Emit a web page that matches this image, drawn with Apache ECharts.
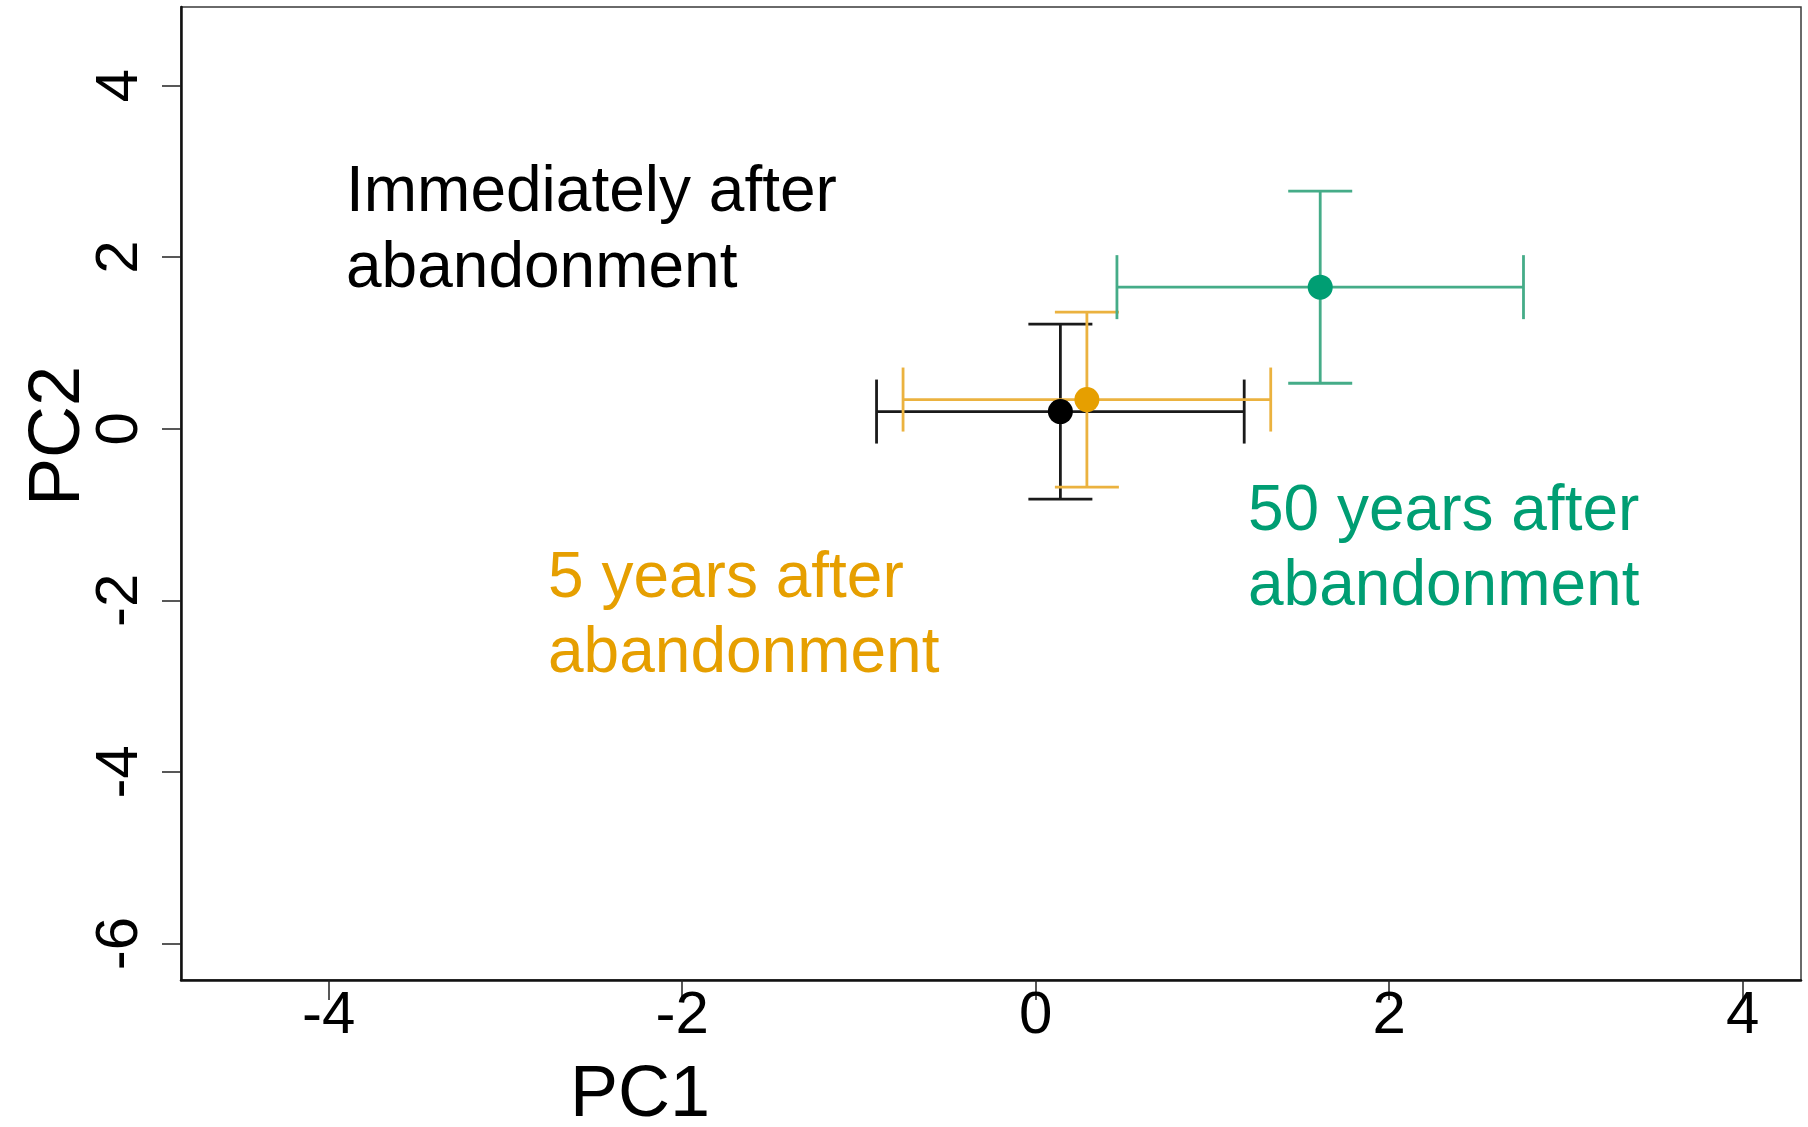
<!DOCTYPE html>
<html>
<head>
<meta charset="utf-8">
<script src="https://cdn.jsdelivr.net/npm/echarts@6/dist/echarts.min.js"></script>
<style>
  html, body { margin: 0; padding: 0; background: #ffffff; }
  #chart { width: 1808px; height: 1127px; }
</style>
</head>
<body>
<div id="chart"></div>
<script>
// Group means on the first two principal components with their error ranges
const groups = ['Immediately after\nabandonment', '5 years after\nabandonment', '50 years after\nabandonment'];
const pc1Mean = [0.14, 0.29, 1.61];
const pc1Err = [1.04, 1.04, 1.15];
const pc2Mean = [0.20, 0.34, 1.65];
const pc2Err = [1.02, 1.02, 1.12];
const xTicks = [-4, -2, 0, 2, 4];
const yTicks = [-6, -4, -2, 0, 2, 4];

const dotColors = ['#000000', '#E69F00', '#009E73'];
const barColors = ['#1a1a1a', '#EBB23F', '#45AC88'];

const chart = echarts.init(document.getElementById('chart'), null, { renderer: 'canvas' });

const errData = groups.map((g, i) => [pc1Mean[i], pc2Mean[i], pc1Err[i], pc2Err[i], i]);
// dots drawn so the first group ends on top
const dotData = [2, 1, 0].map(i => ({
  value: [pc1Mean[i], pc2Mean[i]],
  itemStyle: { color: dotColors[i], opacity: 1 }
}));

function renderErrorBars(params, api) {
  const cx = api.value(0), cy = api.value(1), ex = api.value(2), ey = api.value(3);
  const idx = api.value(4);
  const left = api.coord([cx - ex, cy]);
  const right = api.coord([cx + ex, cy]);
  const top = api.coord([cx, cy + ey]);
  const bottom = api.coord([cx, cy - ey]);
  const cap = 32;
  const style = { stroke: barColors[idx], lineWidth: 2.8 };
  const line = (x1, y1, x2, y2) => ({ type: 'line', shape: { x1, y1, x2, y2 }, style });
  return {
    type: 'group',
    children: [
      line(left[0], left[1], right[0], right[1]),
      line(left[0], left[1] - cap, left[0], left[1] + cap),
      line(right[0], right[1] - cap, right[0], right[1] + cap),
      line(top[0], top[1], bottom[0], bottom[1]),
      line(top[0] - cap, top[1], top[0] + cap, top[1]),
      line(bottom[0] - cap, bottom[1], bottom[0] + cap, bottom[1])
    ]
  };
}

const tickFont = { fontFamily: '"Liberation Sans Narrow", "Liberation Sans", Arial, sans-serif', fontSize: 60, color: '#000' };
const textFont = '"Liberation Sans", Arial, Helvetica, sans-serif';

chart.setOption({
  animation: false,
  backgroundColor: '#ffffff',
  grid: {
    left: 181, right: 7, top: 7, bottom: 147,
    show: true, borderColor: '#3a3a3a', borderWidth: 1.5, backgroundColor: 'transparent'
  },
  xAxis: {
    type: 'value',
    min: -4.835, max: 4.33,
    splitLine: { show: false },
    axisLine: { show: true, onZero: false, lineStyle: { color: '#111', width: 2.5 } },
    axisTick: { show: true, length: 20, lineStyle: { color: '#222', width: 1.5 }, customValues: xTicks },
    axisLabel: Object.assign({ margin: 6, customValues: xTicks, formatter: v => String(v) }, tickFont)
  },
  yAxis: {
    type: 'value',
    min: -6.425, max: 4.915,
    splitLine: { show: false },
    axisLine: { show: true, onZero: false, lineStyle: { color: '#111', width: 2.5 } },
    axisTick: { show: true, length: 19, lineStyle: { color: '#222', width: 1.5 }, customValues: yTicks },
    axisLabel: Object.assign({ margin: 31, rotate: 90, customValues: yTicks, formatter: v => String(v) }, tickFont)
  },
  series: [
    {
      type: 'custom',
      renderItem: renderErrorBars,
      data: errData,
      encode: { x: 0, y: 1 },
      z: 2,
      silent: true
    },
    {
      type: 'scatter',
      data: dotData,
      symbol: 'circle',
      symbolSize: 25,
      z: 3,
      silent: true
    }
  ],
  graphic: [
    {
      type: 'text', x: 346, y: 231,
      style: { text: groups[0], fill: dotColors[0], font: '64px ' + textFont, lineHeight: 76, align: 'left', verticalAlign: 'middle' }
    },
    {
      type: 'text', x: 548, y: 617,
      style: { text: groups[1], fill: dotColors[1], font: '64px ' + textFont, lineHeight: 75, align: 'left', verticalAlign: 'middle' }
    },
    {
      type: 'text', x: 1248, y: 550,
      style: { text: groups[2], fill: dotColors[2], font: '64px ' + textFont, lineHeight: 75, align: 'left', verticalAlign: 'middle' }
    },
    {
      type: 'text', x: 640, y: 1096,
      style: { text: 'PC1', fill: '#000', font: '72px ' + textFont, align: 'center', verticalAlign: 'middle' }
    },
    {
      type: 'text', x: 59, y: 436, rotation: Math.PI / 2,
      style: { text: 'PC2', fill: '#000', font: '72px ' + textFont, align: 'center', verticalAlign: 'middle' }
    }
  ]
});
</script>
</body>
</html>
